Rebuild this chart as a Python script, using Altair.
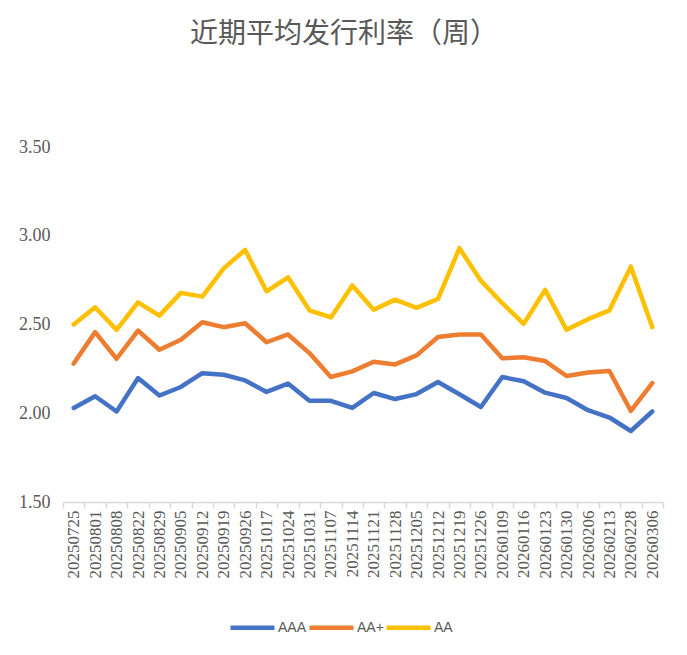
import altair as alt
import pandas as pd

dates = ["20250725", "20250801", "20250808", "20250822", "20250829", "20250905",
         "20250912", "20250919", "20250926", "20251017", "20251024", "20251031",
         "20251107", "20251114", "20251121", "20251128", "20251205", "20251212",
         "20251219", "20251226", "20260109", "20260116", "20260123", "20260130",
         "20260206", "20260213", "20260228", "20260306"]

aaa = [2.03, 2.096, 2.01, 2.198, 2.10, 2.148, 2.226, 2.217, 2.185, 2.12, 2.167, 2.07,
       2.07, 2.03, 2.114, 2.08, 2.108, 2.176, 2.107, 2.035, 2.204, 2.18, 2.116, 2.086,
       2.017, 1.976, 1.90, 2.01]

aa_plus = [2.28, 2.457, 2.307, 2.466, 2.358, 2.414, 2.513, 2.485, 2.507, 2.40, 2.444, 2.339,
           2.204, 2.236, 2.29, 2.275, 2.326, 2.43, 2.444, 2.444, 2.31, 2.315, 2.294, 2.21,
           2.23, 2.238, 2.013, 2.17]

aa = [2.50, 2.597, 2.47, 2.625, 2.55, 2.678, 2.657, 2.816, 2.92, 2.687, 2.766, 2.58,
      2.54, 2.72, 2.583, 2.64, 2.594, 2.644, 2.93, 2.747, 2.62, 2.504, 2.695, 2.47,
      2.53, 2.58, 2.826, 2.485]

series = ["AAA", "AA+", "AA"]
colors = ["#4472C4", "#ED7D31", "#FFC000"]
y_ticks = [1.5, 2.0, 2.5, 3.0, 3.5]

rows = []
for name, vals in zip(series, [aaa, aa_plus, aa]):
    for d, v in zip(dates, vals):
        rows.append({"date": d, "series": name, "value": v})
df = pd.DataFrame(rows)

chart = alt.Chart(df).mark_line(
    strokeWidth=4.5, strokeCap="round", strokeJoin="round"
).encode(
    x=alt.X("date:N", sort=dates,
            scale=alt.Scale(type="band", paddingInner=0, paddingOuter=0),
            axis=alt.Axis(title=None, labelAngle=-90, labelFont="Liberation Serif",
                          labelFontSize=17, labelColor="#595959",
                          domainColor="#D9D9D9", domainWidth=1.5,
                          tickColor="#D9D9D9", tickWidth=1.5, tickSize=6,
                          tickBand="extent", labelPadding=2, grid=False)),
    y=alt.Y("value:Q", scale=alt.Scale(domain=[1.5, 3.5]),
            axis=alt.Axis(title=None, values=y_ticks, format=".2f", domain=False,
                          ticks=False, tickSize=0, labelPadding=13,
                          labelFont="Liberation Serif", labelFontSize=18,
                          labelColor="#595959", grid=False)),
    color=alt.Color("series:N", sort=series,
                    scale=alt.Scale(domain=series, range=colors),
                    legend=alt.Legend(title=None, orient="none", legendX=165, legendY=456,
                                      direction="horizontal", symbolType="stroke",
                                      symbolSize=1936, symbolStrokeWidth=4.5,
                                      labelFont="Liberation Sans", labelFontSize=14,
                                      labelColor="#595959", labelOffset=1,
                                      columnPadding=-7)),
).properties(
    width=600, height=355,
    title=alt.Title("近期平均发行利率（周）", font="Noto Sans CJK SC", fontSize=28,
                    fontWeight="normal", color="#595959", anchor="middle",
                    frame="group", dx=-19, offset=89),
    autosize=alt.AutoSizeParams(type="none"),
    padding={"left": 55, "top": 139, "right": 16, "bottom": 140},
).configure_view(stroke=None)

chart.save("out.html", embed_options={"renderer": "svg", "actions": False})
